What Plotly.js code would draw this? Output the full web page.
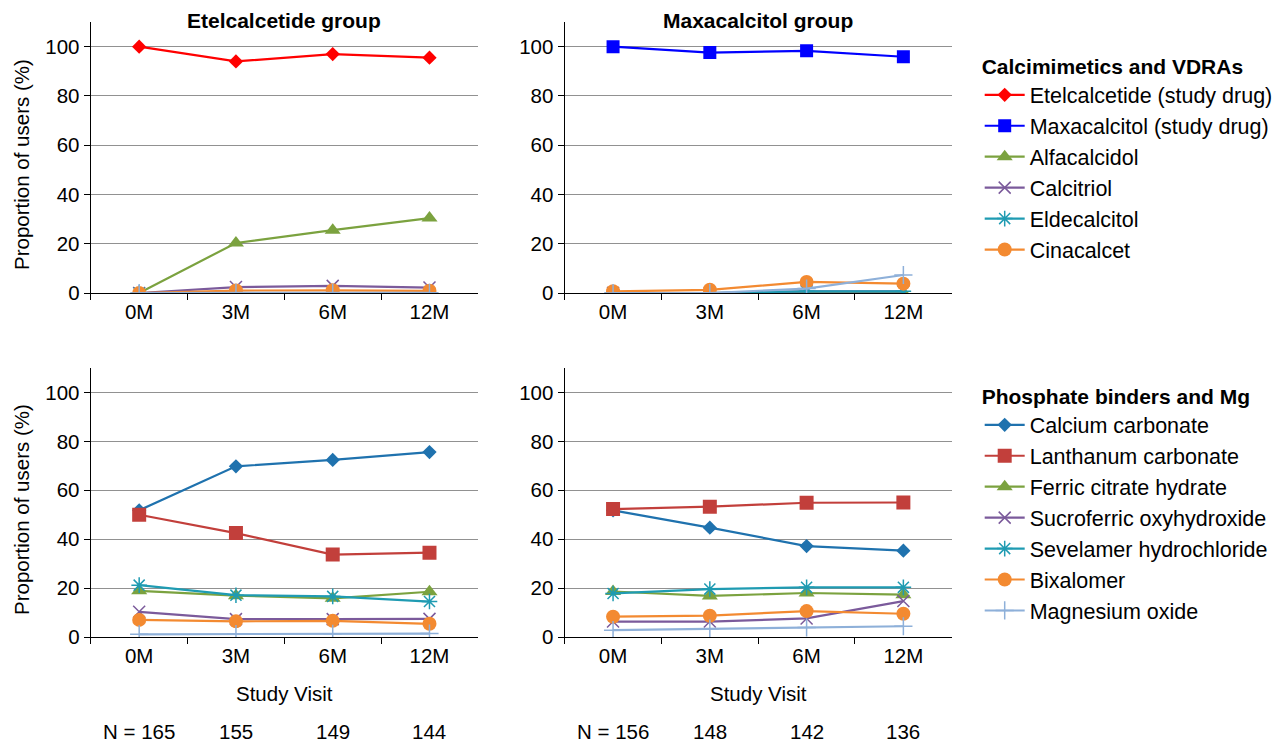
<!DOCTYPE html>
<html>
<head>
<meta charset="utf-8">
<script src="https://cdn.plot.ly/plotly-3.0.1.min.js"></script>
<style>html,body{margin:0;padding:0;background:#fff;}#chart{width:1278px;height:743px;}</style>
</head>
<body>
<div id="chart"></div>
<script>
// ---------- data ----------
const visits = ['0M', '3M', '6M', '12M'];
const nEtelcalcetide = [165, 155, 149, 144];
const nMaxacalcitol = [156, 148, 142, 136];

// Top panels: calcimimetics and VDRAs (% of users)
const etelGrp_etelcalcetide = [100, 94.0, 97.0, 95.5];
const etelGrp_alfacalcidol = [0, 20.3, 25.5, 30.4];
const etelGrp_calcitriol = [0, 2.4, 2.9, 2.2];
const etelGrp_eldecalcitol = [0, 0, 0, 0];
const etelGrp_cinacalcet = [0, 1.0, 1.1, 0.9];
const etelGrp_mgOxide = [0, 0.1, 0.1, 0.1];

const maxaGrp_maxacalcitol = [100, 97.6, 98.3, 95.9];
const maxaGrp_alfacalcidol = [0, 0, 0, 0];
const maxaGrp_calcitriol = [0, 0, 0.7, 0.7];
const maxaGrp_eldecalcitol = [0, 0, 0.7, 0.7];
const maxaGrp_cinacalcet = [0.7, 1.3, 4.5, 3.8];
const maxaGrp_mgOxide = [0, 0, 1.8, 7.3];

// Bottom panels: phosphate binders and Mg
const etelGrp_caCarbonate = [51.8, 69.8, 72.4, 75.6];
const etelGrp_laCarbonate = [50.0, 42.5, 33.7, 34.5];
const etelGrp_ferricCitrate = [18.9, 16.9, 15.8, 18.5];
const etelGrp_sucroferric = [10.3, 7.3, 7.3, 7.4];
const etelGrp_sevelamer = [21.2, 17.1, 16.6, 14.5];
const etelGrp_bixalomer = [7.0, 6.4, 6.6, 5.4];
const etelGrp_mgOxideB = [1.1, 1.2, 1.3, 1.4];

const maxaGrp_caCarbonate = [51.8, 44.7, 37.2, 35.3];
const maxaGrp_laCarbonate = [52.3, 53.3, 54.9, 55.0];
const maxaGrp_ferricCitrate = [18.6, 16.8, 18.0, 17.3];
const maxaGrp_sucroferric = [6.3, 6.3, 7.6, 14.7];
const maxaGrp_sevelamer = [17.8, 19.6, 20.3, 20.3];
const maxaGrp_bixalomer = [8.3, 8.7, 10.6, 9.5];
const maxaGrp_mgOxideB = [2.8, 3.4, 3.9, 4.4];

// ---------- styles ----------
const S = {
  etel: {color: '#ff0000', symbol: 'diamond', size: 11},
  maxa: {color: '#0000ff', symbol: 'square', size: 13},
  alfa: {color: '#7ba23f', symbol: 'triangle-up', size: 14},
  calcitriol: {color: '#7b5a9b', symbol: 'x-thin-open', size: 12, lw: 1.5},
  elde: {color: '#1f9bb2', symbol: 'asterisk-open', size: 13, lw: 1.5},
  cina: {color: '#f38a31', symbol: 'circle', size: 14},
  mg: {color: '#8eb0d9', symbol: 'cross-thin-open', size: 13, lw: 1.5},
  caco: {color: '#1f72ae', symbol: 'diamond', size: 11},
  laco: {color: '#c23f3b', symbol: 'square', size: 14},
  ferric: {color: '#7ba23f', symbol: 'triangle-up', size: 14},
  sucro: {color: '#7b5a9b', symbol: 'x-thin-open', size: 12, lw: 1.5},
  seve: {color: '#1f9bb2', symbol: 'asterisk-open', size: 13, lw: 1.5},
  bixa: {color: '#f38a31', symbol: 'circle', size: 14},
  mgb: {color: '#8eb0d9', symbol: 'cross-thin-open', size: 13, lw: 1.5}
};

function tr(name, y, st, xa, ya, legend, show, rank) {
  const m = {color: st.color, symbol: st.symbol, size: st.size};
  if (st.lw) m.line = {color: st.color, width: st.lw};
  return {
    type: 'scatter', mode: 'lines+markers', name: name,
    x: visits, y: y, xaxis: xa, yaxis: ya,
    line: {color: st.color, width: 2.2},
    marker: m, legend: legend, showlegend: show, legendrank: rank,
    hoverinfo: 'name+y'
  };
}

const data = [
  // top-left
  tr('Alfacalcidol', etelGrp_alfacalcidol, S.alfa, 'x', 'y', 'legend', true, 3),
  tr('Calcitriol', etelGrp_calcitriol, S.calcitriol, 'x', 'y', 'legend', true, 4),
  tr('Eldecalcitol', etelGrp_eldecalcitol, S.elde, 'x', 'y', 'legend', true, 5),
  tr('Cinacalcet', etelGrp_cinacalcet, S.cina, 'x', 'y', 'legend', true, 6),
  tr('Magnesium oxide', etelGrp_mgOxide, S.mg, 'x', 'y', 'legend', false, 7),
  tr('Etelcalcetide (study drug)', etelGrp_etelcalcetide, S.etel, 'x', 'y', 'legend', true, 1),
  // top-right
  tr('Alfacalcidol', maxaGrp_alfacalcidol, S.alfa, 'x2', 'y2', 'legend', false, 3),
  tr('Calcitriol', maxaGrp_calcitriol, S.calcitriol, 'x2', 'y2', 'legend', false, 4),
  tr('Eldecalcitol', maxaGrp_eldecalcitol, S.elde, 'x2', 'y2', 'legend', false, 5),
  tr('Cinacalcet', maxaGrp_cinacalcet, S.cina, 'x2', 'y2', 'legend', false, 6),
  tr('Magnesium oxide', maxaGrp_mgOxide, S.mg, 'x2', 'y2', 'legend', false, 7),
  tr('Maxacalcitol (study drug)', maxaGrp_maxacalcitol, S.maxa, 'x2', 'y2', 'legend', true, 2),
  // bottom-left
  tr('Calcium carbonate', etelGrp_caCarbonate, S.caco, 'x3', 'y3', 'legend2', true, 1),
  tr('Lanthanum carbonate', etelGrp_laCarbonate, S.laco, 'x3', 'y3', 'legend2', true, 2),
  tr('Ferric citrate hydrate', etelGrp_ferricCitrate, S.ferric, 'x3', 'y3', 'legend2', true, 3),
  tr('Sucroferric oxyhydroxide', etelGrp_sucroferric, S.sucro, 'x3', 'y3', 'legend2', true, 4),
  tr('Sevelamer hydrochloride', etelGrp_sevelamer, S.seve, 'x3', 'y3', 'legend2', true, 5),
  tr('Bixalomer', etelGrp_bixalomer, S.bixa, 'x3', 'y3', 'legend2', true, 6),
  tr('Magnesium oxide', etelGrp_mgOxideB, S.mgb, 'x3', 'y3', 'legend2', true, 7),
  // bottom-right
  tr('Calcium carbonate', maxaGrp_caCarbonate, S.caco, 'x4', 'y4', 'legend2', false, 1),
  tr('Lanthanum carbonate', maxaGrp_laCarbonate, S.laco, 'x4', 'y4', 'legend2', false, 2),
  tr('Ferric citrate hydrate', maxaGrp_ferricCitrate, S.ferric, 'x4', 'y4', 'legend2', false, 3),
  tr('Sucroferric oxyhydroxide', maxaGrp_sucroferric, S.sucro, 'x4', 'y4', 'legend2', false, 4),
  tr('Sevelamer hydrochloride', maxaGrp_sevelamer, S.seve, 'x4', 'y4', 'legend2', false, 5),
  tr('Bixalomer', maxaGrp_bixalomer, S.bixa, 'x4', 'y4', 'legend2', false, 6),
  tr('Magnesium oxide', maxaGrp_mgOxideB, S.mgb, 'x4', 'y4', 'legend2', false, 7)
];

const W = 1278, H = 743;
const px = v => v / W;
const py = v => 1 - v / H;
const FONT = 'Liberation Sans, Arial, Helvetica, sans-serif';
const FS = 20.5;

function xax(x0, x1, anchor) {
  return {
    domain: [px(x0), px(x1)], anchor: anchor, type: 'category',
    categoryorder: 'array', categoryarray: visits,
    range: [-0.5, 3.5], tickson: 'boundaries', ticks: 'outside', ticklen: 6,
    tickcolor: '#000', tickwidth: 1, showline: true, linecolor: '#000', linewidth: 1.3,
    showgrid: false, zeroline: false, fixedrange: true,
    tickfont: {size: FS, color: '#000', family: FONT}
  };
}
function yax(y0, y1, anchor) {
  return {
    domain: [py(y1), py(y0)], anchor: anchor, range: [0, 110],
    tickvals: [0, 20, 40, 60, 80, 100], ticks: 'outside', ticklen: 6,
    tickcolor: '#000', tickwidth: 1, showline: true, linecolor: '#000', linewidth: 1.3,
    showgrid: true, gridcolor: '#919191', gridwidth: 1, zeroline: false, fixedrange: true,
    tickfont: {size: FS, color: '#000', family: FONT}
  };
}

function ann(text, x, y, extra) {
  return Object.assign({
    text: text, x: px(x), y: py(y), xref: 'paper', yref: 'paper', showarrow: false,
    xanchor: 'center', yanchor: 'middle', font: {size: FS, color: '#000'}
  }, extra || {});
}

const annotations = [
  ann('<b>Etelcalcetide group</b>', 285, 20, {font: {size: 21, color: '#000'}}),
  ann('<b>Maxacalcitol group</b>', 760, 20, {font: {size: 21, color: '#000'}}),
  ann('Proportion of users (%)', 21, 164, {textangle: -90}),
  ann('Proportion of users (%)', 21, 509, {textangle: -90}),
  ann('Study Visit', 285, 693),
  ann('Study Visit', 760, 693)
];
nEtelcalcetide.forEach((n, i) => annotations.push({
  text: (i === 0 ? 'N = ' : '') + n, x: i, xref: 'x3', y: py(731), yref: 'paper',
  xanchor: 'center', yanchor: 'middle', showarrow: false, font: {size: FS, color: '#000'}
}));
nMaxacalcitol.forEach((n, i) => annotations.push({
  text: (i === 0 ? 'N = ' : '') + n, x: i, xref: 'x4', y: py(731), yref: 'paper',
  xanchor: 'center', yanchor: 'middle', showarrow: false, font: {size: FS, color: '#000'}
}));

const legendBase = {
  xanchor: 'left', yanchor: 'top', bgcolor: 'rgba(0,0,0,0)', borderwidth: 0,
  font: {size: 21.5, color: '#000', family: FONT}, traceorder: 'normal', itemwidth: 40
};

const layout = {
  width: W, height: H, margin: {l: 0, r: 0, t: 0, b: 0},
  paper_bgcolor: '#fff', plot_bgcolor: '#fff',
  font: {family: FONT, color: '#000', size: FS},
  xaxis: xax(91, 479, 'y'), yaxis: yax(22, 293, 'x'),
  xaxis2: xax(566, 954, 'y2'), yaxis2: yax(22, 293, 'x2'),
  xaxis3: xax(91, 479, 'y3'), yaxis3: yax(368, 637, 'x3'),
  xaxis4: xax(566, 954, 'y4'), yaxis4: yax(368, 637, 'x4'),
  legend: Object.assign({}, legendBase, {
    x: px(982), y: py(47),
    title: {text: '<b>Calcimimetics and VDRAs</b>', font: {size: 21}}
  }),
  legend2: Object.assign({}, legendBase, {
    x: px(982), y: py(377),
    title: {text: '<b>Phosphate binders and Mg</b>', font: {size: 21}}
  }),
  annotations: annotations,
  hovermode: 'closest'
};

Plotly.newPlot('chart', data, layout, {displayModeBar: false});
</script>
</body>
</html>
